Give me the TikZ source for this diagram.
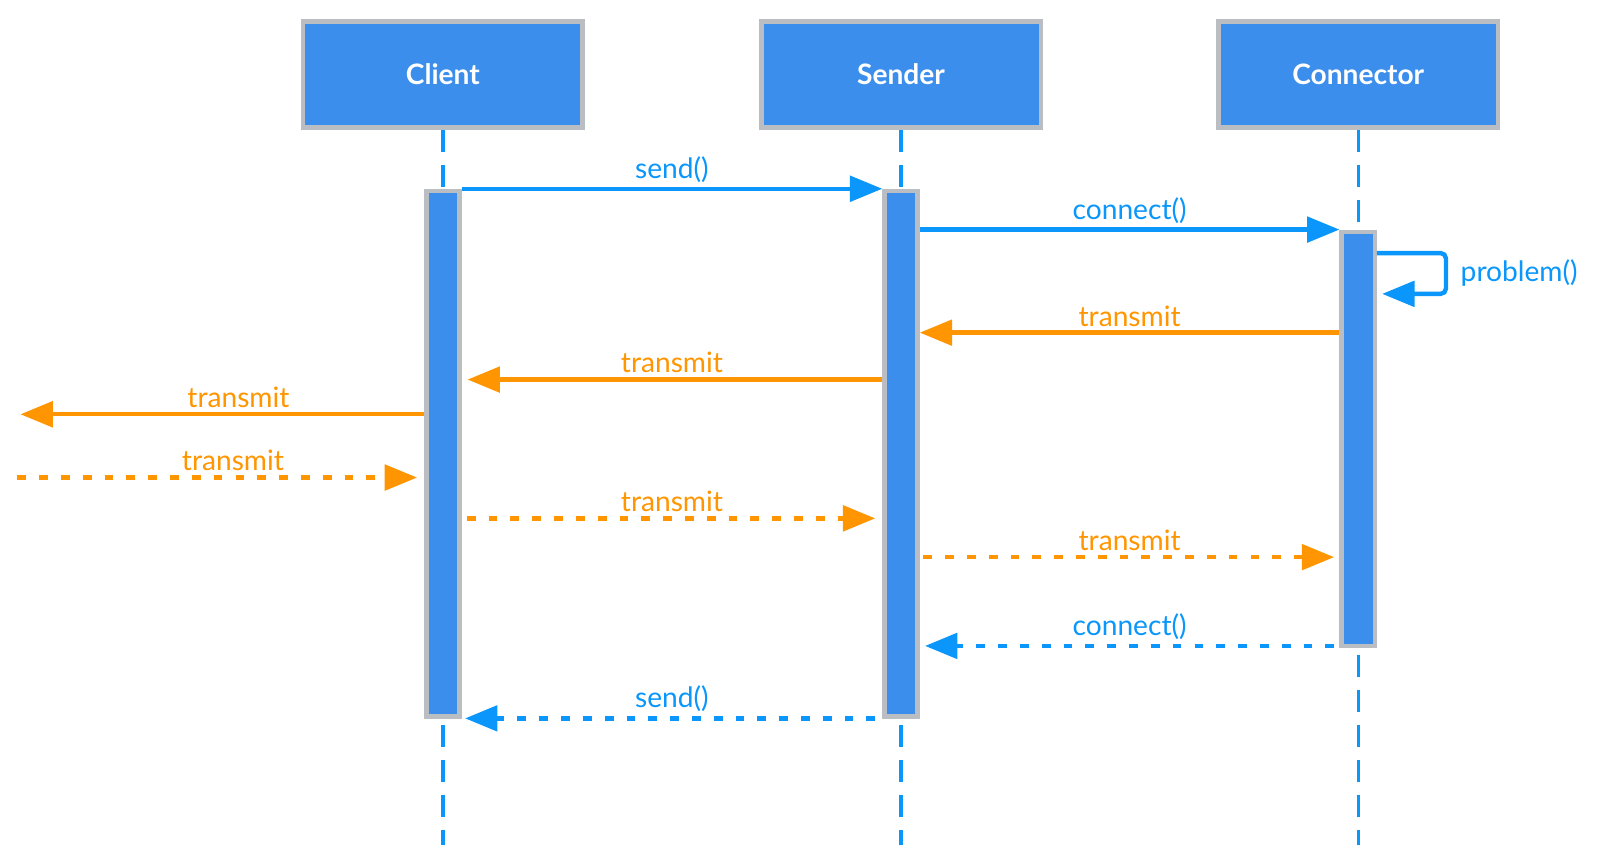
\documentclass[tikz,border=0pt]{standalone}
\usepackage{fontspec}
\setmainfont{Lato}
\usepackage{tikz}
\usetikzlibrary{arrows.meta,positioning}
\definecolor{boxblue}{RGB}{60,142,236}
\definecolor{boxgray}{RGB}{186,190,194}
\definecolor{msgblue}{RGB}{10,150,250}
\definecolor{msgorange}{RGB}{255,149,0}

\begin{document}
\begin{tikzpicture}[x=0.0102cm,y=-0.0102cm,
	actor/.style={draw=boxgray, line width=1.25pt, fill=boxblue, minimum width=2.79cm, minimum height=1.06cm, text=white, font=\fontsize{8}{10}\selectfont\bfseries},
	bar/.style={draw=boxgray, line width=1.25pt, fill=boxblue, minimum width=0.33cm, anchor=north, inner sep=0pt},
	life/.style={draw=msgblue, line width=0.95pt, dash pattern=on 6.2pt off 3.75pt},
	msg/.style={line width=1.25pt, -{Triangle[length=9.2pt,width=7.2pt]}},
	blue msg/.style={msg, draw=msgblue},
	orange msg/.style={msg, draw=msgorange},
	reply/.style={dash pattern=on 2.5pt off 3.7pt},
	lbl/.style={font=\fontsize{8}{10}\selectfont, inner sep=1.2pt}
]
				\useasboundingbox (0,0) rectangle (1568,844);

				\node [actor] (client)    at (434,73)  {Client};
				\node [actor] (sender)    at (883,73)  {Sender};
				\node [actor] (connector) at (1331,73) {Connector};

				\draw [life] (client.south)    -- (client.south |- 0,828);
				\draw [life] (sender.south)    -- (sender.south |- 0,828);
				\draw [life] (connector.south) -- (connector.south |- 0,828);

				\node [bar, minimum height=5.25cm] (cbar)  at (434,185)  {};
				\node [bar, minimum height=5.25cm] (sbar)  at (883,185)  {};
				\node [bar, minimum height=4.14cm] (cobar) at (1331,225) {};

				\coordinate (out) at (20,406);
				\coordinate (in)  at (17,468);

				\draw [blue msg] (cbar.north east) -- node [lbl, above, text=msgblue] {send()} (sbar.north west);
				\draw [blue msg] (sbar.east |- cobar.north) -- node [lbl, above, text=msgblue] {connect()} (cobar.north west);
				\draw [blue msg, rounded corners=1.5pt, shorten >=1.5pt] (cobar.east |- 0,248) -- (1417,248) -- (1417,288) -- (cobar.east |- 0,288);
				\node [lbl, right, text=msgblue, inner sep=4pt] (problem) at (1417,268) {problem()};

				\draw [orange msg] (cobar.west |- 0,326) -- node [lbl, above, text=msgorange] {transmit} (sbar.east |- 0,326);
				\draw [orange msg, shorten >=1.7pt] (sbar.west |- 0,372) -- node [lbl, above, text=msgorange] {transmit} (cbar.east |- 0,372);
				\draw [orange msg] (cbar.west |- 0,406) -- node [lbl, above, pos=0.46, text=msgorange] {transmit} (out);
				\draw [orange msg, reply, shorten >=2pt] (in) -- node [lbl, above, pos=0.53, text=msgorange] {transmit} (cbar.west |- 0,468);
				\draw [orange msg, reply, shorten <=1.5pt, shorten >=2pt] (cbar.east |- 0,508) -- node [lbl, above, text=msgorange] {transmit} (sbar.west |- 0,508);
				\draw [orange msg, reply, shorten <=1pt, shorten >=1.5pt] (sbar.east |- 0,546) -- node [lbl, above, text=msgorange] {transmit} (cobar.west |- 0,546);

				\draw [blue msg, reply, shorten <=1.5pt, shorten >=1.5pt] (cobar.west |- 0,633) -- node [lbl, above, text=msgblue] {connect()} (sbar.east |- 0,633);
				\draw [blue msg, reply, shorten <=2pt, shorten >=1pt] (sbar.west |- 0,704) -- node [lbl, above, text=msgblue] {send()} (cbar.east |- 0,704);

\end{tikzpicture}
\end{document}
